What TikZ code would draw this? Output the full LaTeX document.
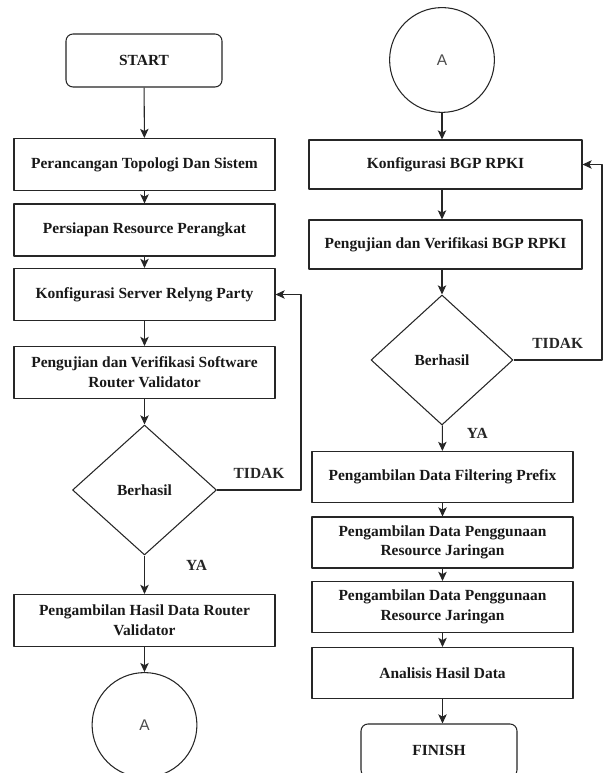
\documentclass[tikz,border=0pt]{standalone}
\usepackage{fontspec}
\setmainfont{Liberation Serif}
\newfontfamily\circfont{Liberation Sans}
\usetikzlibrary{arrows.meta,positioning,shapes.geometric}

\begin{document}
\begin{tikzpicture}[>={Stealth[length=6.5pt,width=6pt,inset=1.6pt]},line join=round,
  font=\fontsize{11}{14}\selectfont\bfseries,text=black!90,
  box/.style={draw=black!85,line width=.75pt,fill=white,align=center,inner sep=2pt,minimum width=6.525cm,minimum height=1.3cm},
  wbox/.style={box,minimum width=6.825cm,minimum height=1.225cm},
  rbox/.style={box,minimum height=1.275cm},
  term/.style={box,rounded corners=5pt,minimum width=3.9cm,minimum height=1.325cm},
  dec/.style={draw=black!85,line width=.75pt,diamond,inner sep=0pt,minimum width=3.6cm,minimum height=3.25cm},
  conn/.style={circle,draw=black!85,line width=.75pt,minimum size=2.62cm,inner sep=0pt,font=\fontsize{11}{13}\selectfont\circfont,text=black!70},
  arr/.style={->,black!85,line width=.75pt},
  lbl/.style={inner sep=0pt,font=\fontsize{11}{13}\selectfont\bfseries}]
\path[use as bounding box] (0,0) rectangle (15.075,19.325);
\fill[white] (0,0) rectangle (15.075,19.325);
% kolom kiri
\node[term] (start) at (3.6,17.8125) {START};
\node[box] (topo) at (3.6125,15.2125) {Perancangan Topologi Dan Sistem};
\node[box] (res) at (3.6125,13.575) {Persiapan Resource Perangkat};
\node[box] (rp) at (3.6125,11.9625) {Konfigurasi Server Relyng Party};
\node[box] (uji1) at (3.6125,10.0125) {Pengujian dan Verifikasi Software\\Router Validator};
\node[dec] (cek1) at (3.6125,7.075) {Berhasil};
\node[box] (hasil) at (3.6125,3.8125) {Pengambilan Hasil Data Router\\Validator};
\node[conn] (a1) at (3.6125,1.2) {A};
\coordinate (back1) at (7.525,11.9625);
% kolom kanan
\node[conn] (a2) at (11.05,17.825) {A};
\node[wbox] (bgp) at (11.1375,15.2125) {Konfigurasi BGP RPKI};
\node[wbox] (uji2) at (11.1375,13.2125) {Pengujian dan Verifikasi BGP RPKI};
\node[dec,minimum width=3.55cm] (cek2) at (11.05,10.325) {Berhasil};
\node[rbox] (prefix) at (11.0625,7.4) {Pengambilan Data Filtering Prefix};
\node[rbox] (pakai1) at (11.0625,5.7625) {Pengambilan Data Penggunaan\\Resource Jaringan};
\node[rbox] (pakai2) at (11.0625,4.15) {Pengambilan Data Penggunaan\\Resource Jaringan};
\node[rbox] (anal) at (11.0625,2.5) {Analisis Hasil Data};
\node[term] (finish) at (10.975,0.5625) {FINISH};
\coordinate (back2) at (15.05,15.2125);
% panah kiri
\draw[arr] (start)--(topo);
\draw[arr] (topo)--(res);
\draw[arr] (res)--(rp);
\draw[arr] (rp)--(uji1);
\draw[arr] (uji1)--(cek1);
\draw[arr] (cek1)--node[lbl,pos=.25,xshift=1.3cm]{YA}(hasil);
\draw[arr] (hasil)--(a1);
\draw[arr] (cek1.east)--node[lbl,above=8pt]{TIDAK}(cek1.east-|back1)--(back1)--(rp.east);
% panah kanan
\draw[arr] (a2.south)--(a2.south|-bgp.north);
\draw[arr] (bgp.south-|a2.south)--(uji2.north-|a2.south);
\draw[arr] (uji2.south-|a2.south)--(cek2.north);
\draw[arr] (cek2)--node[lbl,pos=.31,xshift=.875cm]{YA}(prefix);
\draw[arr] (cek2.east)--node[lbl,above=8pt]{TIDAK}(cek2.east-|back2)--(back2)--(bgp.east);
\draw[arr] (prefix)--(pakai1);
\draw[arr] (pakai1)--(pakai2);
\draw[arr] (pakai2)--(anal);
\draw[arr] (anal.south)--(anal.south|-finish.north);
\end{tikzpicture}
\end{document}
